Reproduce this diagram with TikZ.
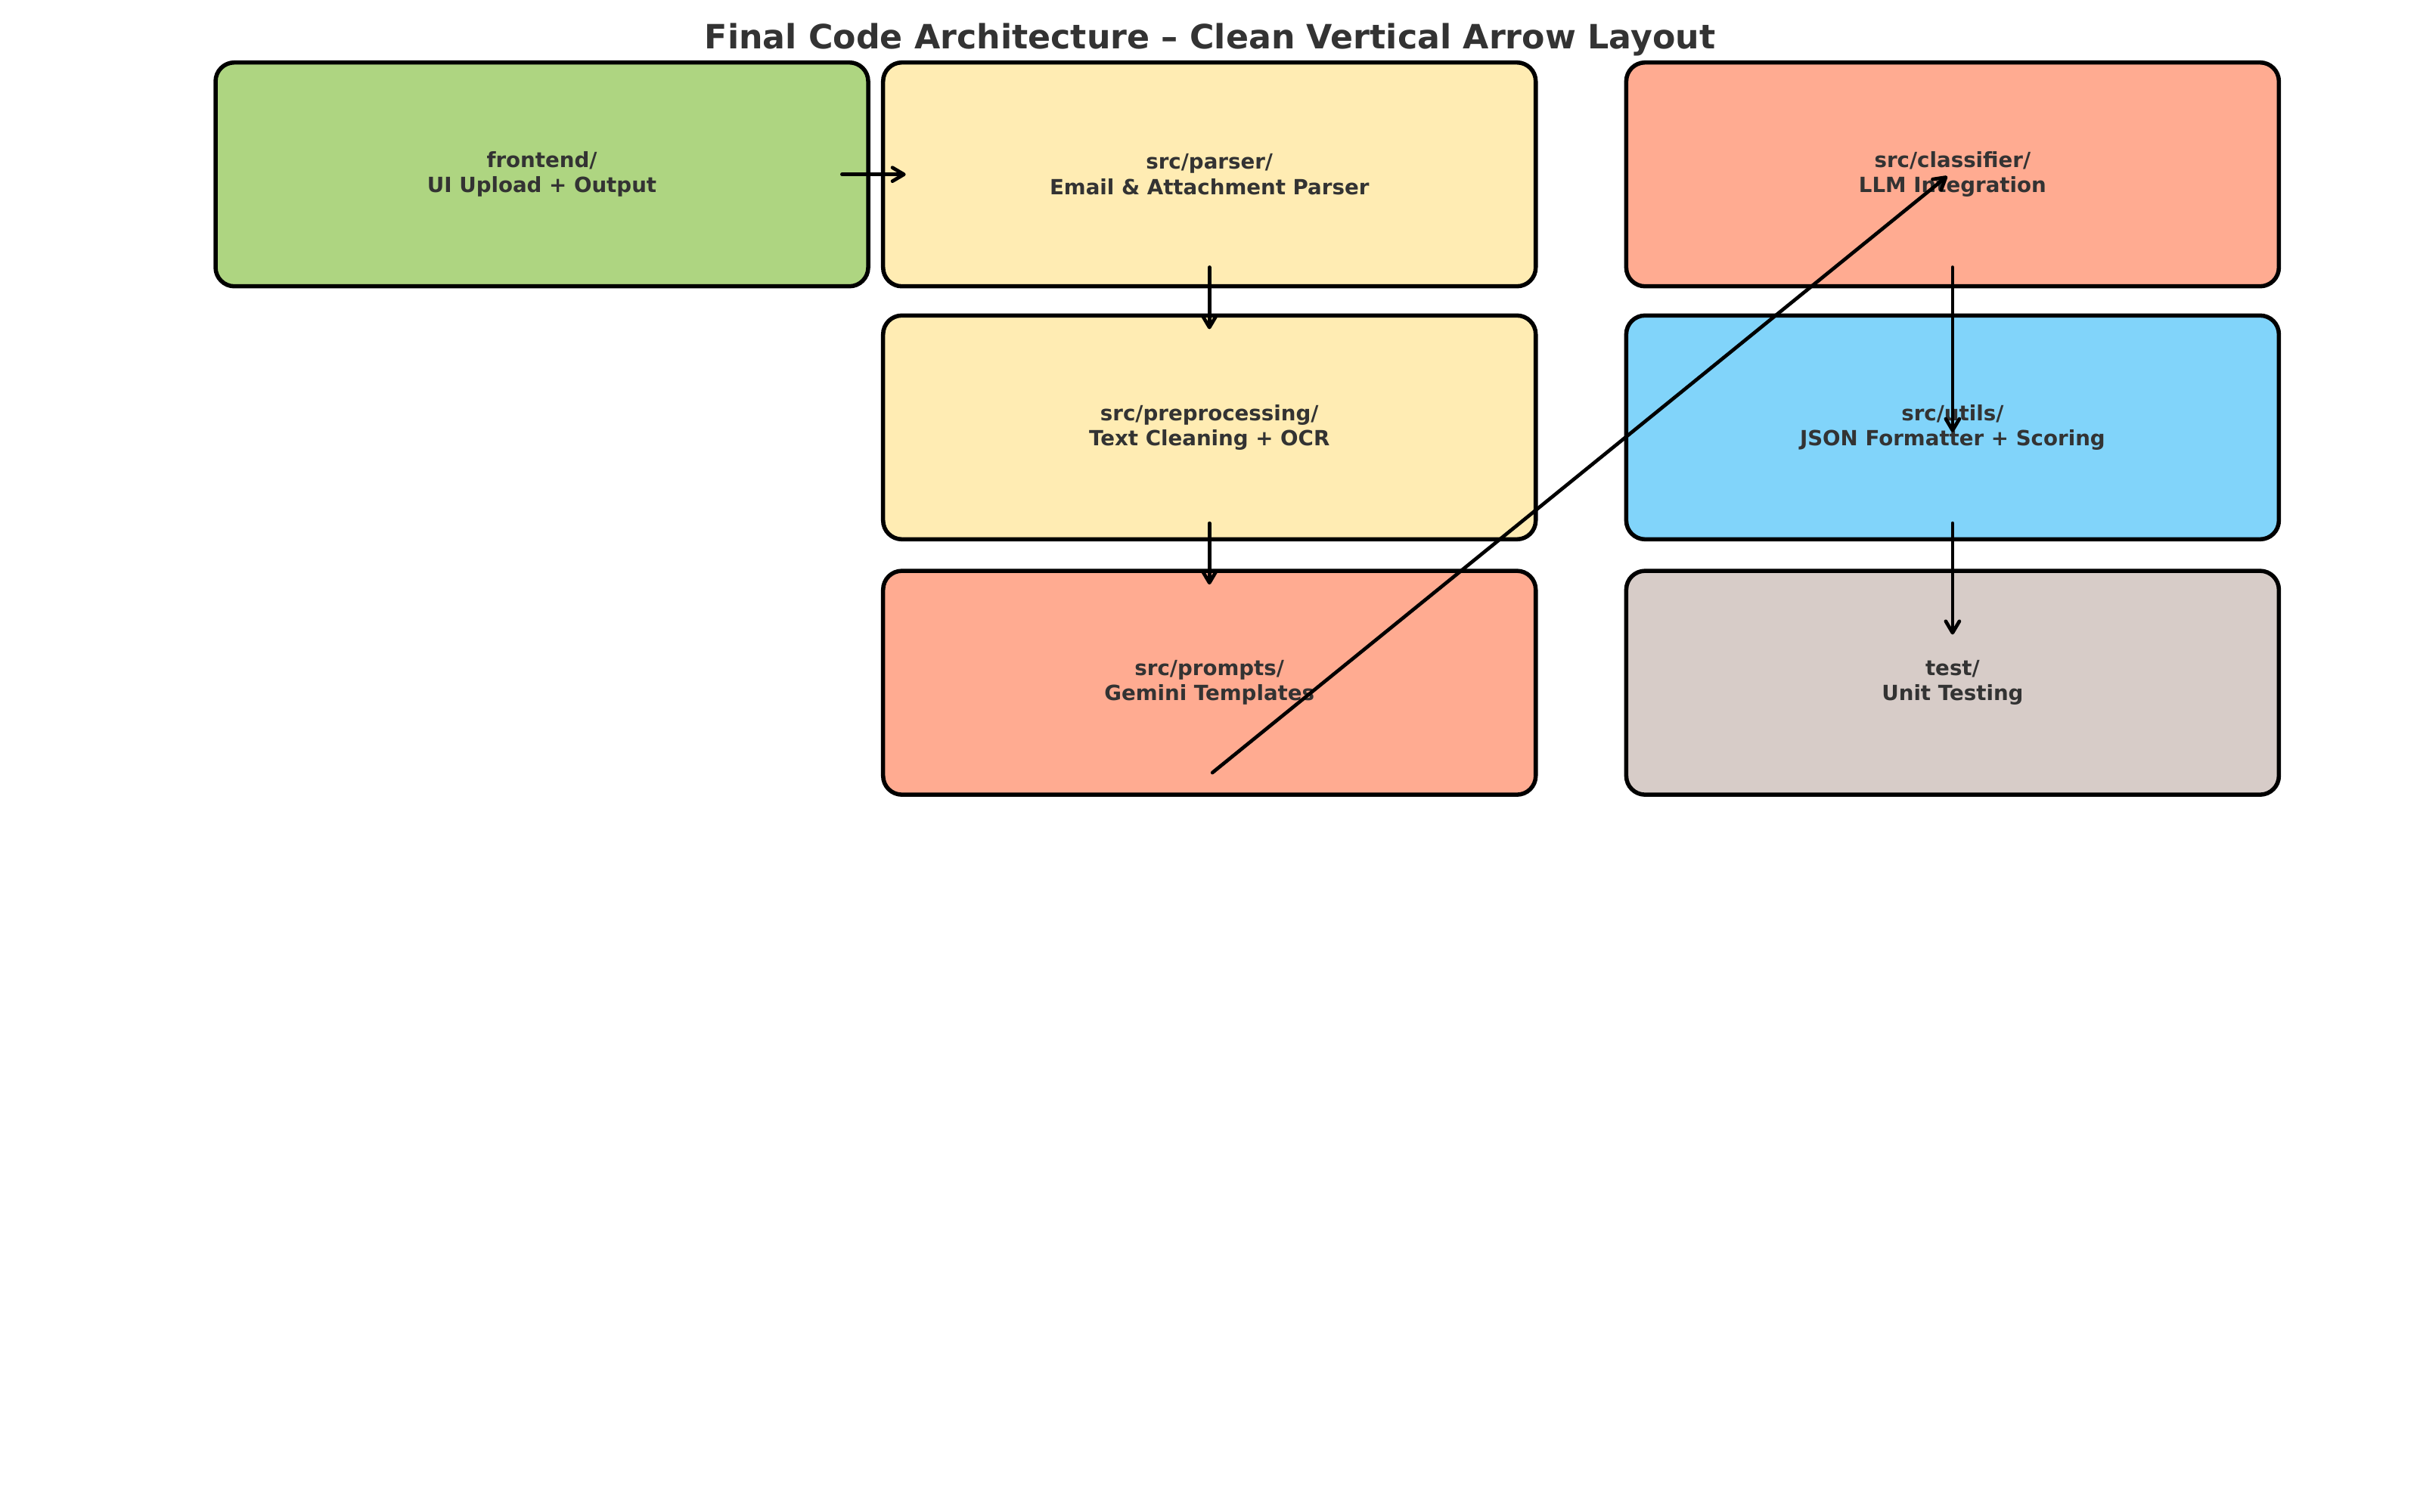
\documentclass[tikz,border=0pt]{standalone}
\usepackage{fontspec}
\setmainfont{DejaVu Sans}
\usetikzlibrary{arrows.meta, calc}

\definecolor{frontgreen}{HTML}{AED581}
\definecolor{parseryellow}{HTML}{FFECB3}
\definecolor{llmsalmon}{HTML}{FFAB91}
\definecolor{utilsblue}{HTML}{81D4FA}
\definecolor{testgrey}{HTML}{D7CCC8}
\definecolor{labelgrey}{HTML}{333333}

\begin{document}
\begin{tikzpicture}[
    every node/.style={font=\bfseries\fontsize{10}{12}\selectfont, text=labelgrey},
    module/.style={draw=black, line width=2pt, rounded corners=9pt, align=center,
      minimum width=10.96cm, minimum height=3.76cm, outer sep=0pt, inner sep=0pt},
    flow/.style={line width=1.7pt, line cap=round,
      -{Straight Barb[length=5.5pt, width=6.5pt, round]}}
  ]
  \useasboundingbox (0,0) rectangle (40.64,25.4);

  \node[font=\bfseries\fontsize{16}{19}\selectfont, anchor=base] (title) at (20.32,24.58)
    {Final Code Architecture – Clean Vertical Arrow Layout};

  % column 1
  \node[module, fill=frontgreen] (front) at (9.10,22.47) {frontend/\\UI Upload + Output};

  % column 2
  \node[module, fill=parseryellow] (parser) at (20.31,22.47) {src/parser/\\Email \& Attachment Parser};
  \node[module, fill=parseryellow] (preproc) at (20.31,18.22) {src/preprocessing/\\Text Cleaning + OCR};
  \node[module, fill=llmsalmon] (prompts) at (20.31,13.93) {src/prompts/\\Gemini Templates};

  % column 3
  \node[module, fill=llmsalmon] (classif) at (32.79,22.47) {src/classifier/\\LLM Integration};
  \node[module, fill=utilsblue] (utils) at (32.79,18.22) {src/utils/\\JSON Formatter + Scoring};
  \node[module, fill=testgrey] (tests) at (32.79,13.93) {test/\\Unit Testing};

  % arrows
  \draw[flow, shorten <=-0.44cm, shorten >=-0.38cm] (front.east) -- (parser.west);
  \draw[flow, shorten <=-0.32cm, shorten >=-0.23cm] (parser.south) -- (preproc.north);
  \draw[flow, shorten <=-0.27cm, shorten >=-0.23cm] (preproc.south) -- (prompts.north);
  \draw[flow, shorten <=-0.32cm] (classif.south) -- ([yshift=-0.08cm]utils.center);
  \draw[flow, shorten <=-0.27cm] (utils.south) -- ([yshift=0.81cm]tests.center);
  \draw[flow] ([shift={(0.05,-1.51)}]prompts.center) -- ([shift={(-0.09,-0.03)}]classif.center);
\end{tikzpicture}
\end{document}
